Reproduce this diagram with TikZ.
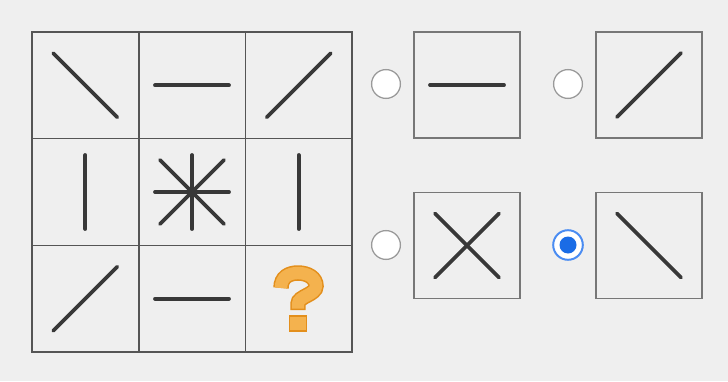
\documentclass[tikz,border=0pt]{standalone}
\usepackage{tikz}
\usetikzlibrary{positioning}
\usepackage{xcolor}
\definecolor{PanelGray}{HTML}{EFEFEF}
\definecolor{GridGray}{HTML}{555555}
\definecolor{BoxGray}{HTML}{777777}
\definecolor{GlyphDark}{HTML}{383838}
\definecolor{QuestFill}{HTML}{F4B24E}
\definecolor{QuestEdge}{HTML}{E38F1C}
\definecolor{RadioEdge}{HTML}{9A9A9A}
\definecolor{RadioBlue}{HTML}{1A6CE6}
\definecolor{RadioRing}{HTML}{4A8CF2}
\tikzset{
    % Boxes - 1 unit is one pixel of the reference
    cell/.style={
        rectangle,
        draw=GridGray,
        line width=1.2pt,
        minimum size=2.667cm,
        inner sep=0pt
    },
    option/.style={
        rectangle,
        draw=BoxGray,
        line width=1.1pt,
        minimum size=2.65cm,
        inner sep=0pt
    },
    % Strokes inside the boxes
    glyph/.style={
        draw=GlyphDark,
        line width=2.7pt,
        line cap=round
    },
    radio/.style={
        circle,
        draw=RadioEdge,
        fill=white,
        line width=0.9pt,
        minimum size=0.72cm,
        inner sep=0pt
    },
    radiosel/.style={
        circle,
        draw=RadioRing,
        fill=white,
        line width=1.4pt,
        minimum size=0.74cm,
        inner sep=0pt
    }
}
\begin{document}
\begin{tikzpicture}[x=0.025cm, y=-0.025cm]
    \fill[PanelGray] (0,0) rectangle (728,381);
    \useasboundingbox (0,0) rectangle (728,381);

    % 3x3 matrix
    \node[cell] (c11) at (85.3,85.3) {};
    \node[cell] (c12) at (192,85.3) {};
    \node[cell] (c13) at (298.7,85.3) {};
    \node[cell] (c21) at (85.3,192) {};
    \node[cell] (c22) at (192,192) {};
    \node[cell] (c23) at (298.7,192) {};
    \node[cell] (c31) at (85.3,298.7) {};
    \node[cell] (c32) at (192,298.7) {};
    \node[cell] (c33) at (298.7,298.7) {};

    \draw[glyph] (c11.center) ++(-32,-32) -- ++(64,64);
    \draw[glyph] (c12.center) ++(-37,0) -- ++(74,0);
    \draw[glyph] (c13.center) ++(-32,32) -- ++(64,-64);
    \draw[glyph] (c21.center) ++(0,-37) -- ++(0,74);
    \draw[glyph] (c22.center) ++(-37,0) -- ++(74,0);
    \draw[glyph] (c22.center) ++(0,-37) -- ++(0,74);
    \draw[glyph] (c22.center) ++(-32,-32) -- ++(64,64);
    \draw[glyph] (c22.center) ++(-32,32) -- ++(64,-64);
    \draw[glyph] (c23.center) ++(0,-37) -- ++(0,74);
    \draw[glyph] (c31.center) ++(-32,32) -- ++(64,-64);
    \draw[glyph] (c32.center) ++(-37,0) -- ++(74,0);

    % question mark
    \draw[QuestEdge, line width=11pt]
        (281,288) .. controls (281,277) and (289,273) .. (298,273)
        .. controls (308,273) and (316,278) .. (316,286)
        .. controls (316,295) and (298,296) .. (298,304) -- (298,310);
    \draw[QuestFill, line width=8.8pt]
        (281,288) .. controls (281,277) and (289,273) .. (298,273)
        .. controls (308,273) and (316,278) .. (316,286)
        .. controls (316,295) and (298,296) .. (298,304) -- (298,308.5);
    \filldraw[fill=QuestFill, draw=QuestEdge, line width=1.2pt] (289.5,316) rectangle (306.5,331);

    % answer options
    \node[radio] (r1) at (386,84) {};
    \node[option] (o1) at (467,85) {};
    \node[radio] (r2) at (568,84) {};
    \node[option] (o2) at (649,85) {};
    \node[radio] (r3) at (386,245) {};
    \node[option] (o3) at (467,245.5) {};
    \node[radiosel] (r4) at (568,245) {};
    \node[option] (o4) at (649,245.5) {};
    \fill[RadioBlue] (r4.center) circle (8.5);

    \draw[glyph] (o1.center) ++(-37,0) -- ++(74,0);
    \draw[glyph] (o2.center) ++(-32,32) -- ++(64,-64);
    \draw[glyph] (o3.center) ++(-32,-32) -- ++(64,64);
    \draw[glyph] (o3.center) ++(-32,32) -- ++(64,-64);
    \draw[glyph] (o4.center) ++(-32,-32) -- ++(64,64);
\end{tikzpicture}
\end{document}
